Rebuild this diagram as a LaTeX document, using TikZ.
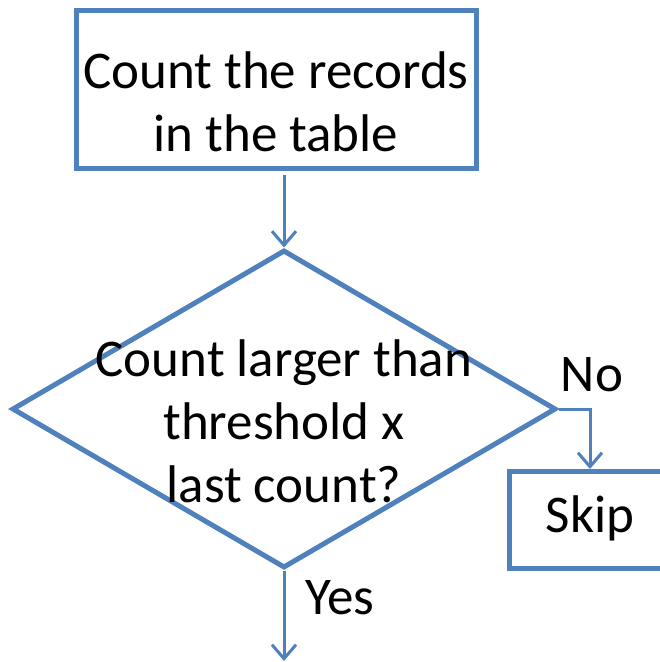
\documentclass[tikz,border=0pt]{standalone}
\usepackage{fontspec}
\setmainfont{Carlito}
\usetikzlibrary{shapes.geometric,arrows.meta}
\definecolor{flowblue}{HTML}{4F81BD}
\tikzset{
  boxline/.style={draw=flowblue, line width=5pt, inner sep=0pt},
  flowtext/.style={font=\fontsize{53}{63}\selectfont, align=center, inner sep=0pt},
  conn/.style={draw=flowblue, line width=3pt, -{Straight Barb[length=14pt,width=24pt,line width=3pt]}},
}
\begin{document}
\begin{tikzpicture}[x=1pt,y=-1pt]
  \useasboundingbox (0,0) rectangle (660,662);
  \clip (0,0) rectangle (660,662);
  \fill[white] (0,0) rectangle (660,662);

  % process box
  \node[boxline, rectangle, minimum width=400pt, minimum height=158pt] (count) at (276,89) {};
  \node[flowtext] (counttext) at (276,102) {Count the records\\in the table};

  % decision
  \node[boxline, diamond, minimum width=544pt, minimum height=318pt] (dec) at (284,409) {};
  \node[flowtext] (dectext) at (284,421) {Count larger than\\threshold x\\last count?};

  % skip box (runs past the right edge)
  \node[boxline, rectangle, minimum width=162pt, minimum height=97pt] (skip) at (590,520) {};
  \node[flowtext] (skiptext) at (590,518) {Skip};

  \coordinate (arrowtop) at (284,175);
  \coordinate (yesend) at (284,661);
  \coordinate (bend) at (590,409);

  % connectors
  \draw[conn] (arrowtop) -- (dec.north);
  \draw[conn] (dec.east) -- (bend) -- (skip.north);
  \draw[conn] (dec.south) -- (yesend);

  % branch labels
  \node[flowtext] (nolabel) at (592,375) {No};
  \node[flowtext] (yeslabel) at (340,598) {Yes};
\end{tikzpicture}
\end{document}
